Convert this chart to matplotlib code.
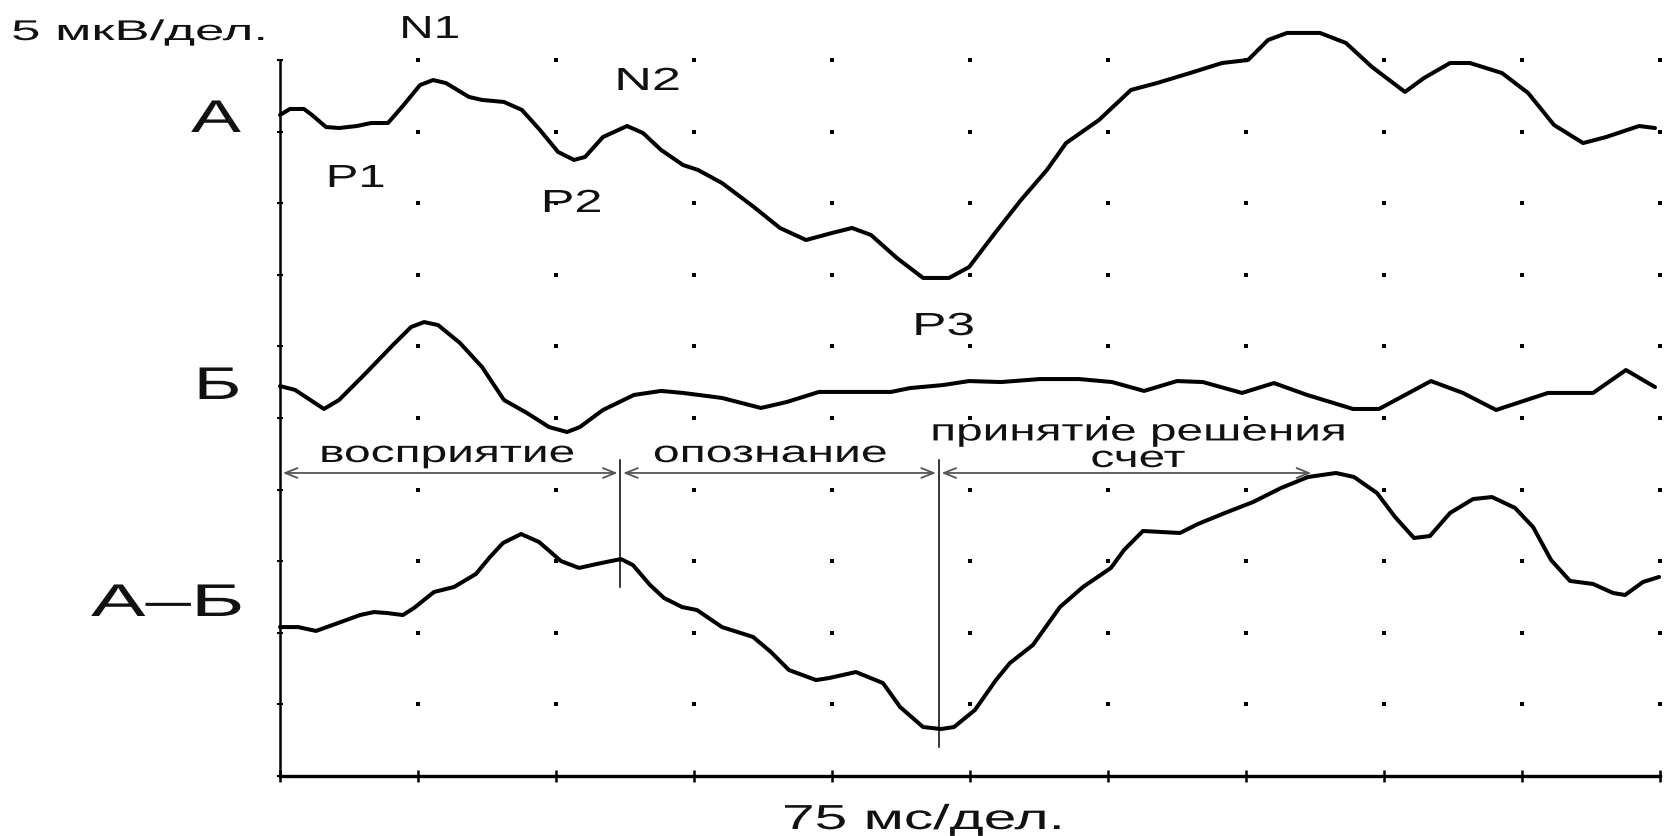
import matplotlib
matplotlib.use('Agg')
import matplotlib.pyplot as plt
import numpy as np
from matplotlib.patheffects import AbstractPathEffect
from matplotlib.transforms import Affine2D

# ---- scales: 75 ms per division (x), 5 uV per division (y) ----
x_ticks_ms = np.arange(0, 751, 75)
y_ticks_uv = np.arange(0, 51, 5)

# ---- trace A (on the chart's uV scale) ----
a_t = [0, 5.4, 13.0, 17.4, 25.0, 32.1, 41.8, 49.5, 58.7, 66.3, 76.1, 83.2, 90.2,
       102.7, 109.8, 121.7, 131.5, 141.3, 151.1, 159.8, 165.8, 175.5, 188.6, 197.3,
       207.1, 219.0, 227.2, 240.2, 257.6, 271.7, 285.9, 300.0, 310.9, 321.2, 335.3,
       349.5, 363.6, 374.5, 388.6, 402.7, 416.8, 427.2, 445.1, 462.5, 476.6, 494.6,
       512.0, 526.1, 537.0, 547.3, 565.2, 579.3, 593.5, 611.4, 621.7, 635.9, 646.7,
       664.1, 678.3, 692.4, 708.2, 720.7, 738.6, 747.3]
a_uv = [46.16, 46.58, 46.58, 46.16, 45.32, 45.25, 45.39, 45.60, 45.60, 46.72, 48.25,
        48.60, 48.39, 47.42, 47.21, 47.07, 46.51, 45.11, 43.58, 43.02, 43.23, 44.62,
        45.39, 44.90, 43.72, 42.67, 42.32, 41.41, 39.73, 38.27, 37.43, 37.92, 38.27,
        37.78, 36.17, 34.78, 34.78, 35.54, 37.92, 40.22, 42.32, 44.20, 45.81, 47.91,
        48.39, 49.09, 49.79, 50.00, 51.40, 51.89, 51.89, 51.19, 49.51, 47.77, 48.74,
        49.79, 49.79, 49.09, 47.70, 45.46, 44.20, 44.62, 45.39, 45.25]

# ---- trace B ----
b_t = [0, 8.2, 23.9, 32.1, 46.7, 61.4, 71.2, 78.3, 85.9, 97.8, 109.8, 121.7, 134.2,
       146.2, 156.0, 163.0, 175.5, 192.4, 207.1, 219.0, 240.2, 261.4, 275.5, 292.9,
       332.1, 342.4, 360.3, 374.5, 391.8, 413.0, 434.2, 452.2, 469.6, 487.5, 501.6,
       522.8, 540.2, 558.2, 583.2, 597.3, 625.5, 642.9, 660.9, 689.1, 713.6, 731.5,
       747.3]
b_uv = [27.23, 26.96, 25.63, 26.26, 28.14, 30.10, 31.35, 31.70, 31.49, 30.24, 28.56,
        26.26, 25.35, 24.37, 24.02, 24.37, 25.56, 26.61, 26.89, 26.75, 26.40, 25.70,
        26.12, 26.82, 26.82, 27.09, 27.30, 27.58, 27.51, 27.72, 27.72, 27.51, 26.89,
        27.58, 27.51, 26.75, 27.44, 26.61, 25.63, 25.63, 27.58, 26.75, 25.56, 26.75,
        26.75, 28.35, 27.16]

# ---- difference trace A-B ----
d_t = [0, 9.8, 19.6, 31.5, 43.5, 51.1, 58.2, 66.8, 72.8, 83.7, 94.6, 106.5, 114.1,
       121.2, 131.0, 140.8, 152.7, 162.5, 174.5, 185.3, 191.8, 201.1, 208.7, 218.5,
       226.6, 240.2, 257.1, 266.8, 276.6, 291.3, 298.4, 313.0, 327.7, 337.0, 349.5,
       359.2, 366.3, 377.7, 389.1, 396.7, 409.2, 423.9, 436.4, 451.6, 458.7, 469.0,
       489.1, 498.9, 513.6, 528.8, 544.0, 558.7, 573.9, 583.7, 596.2, 606.0, 616.3,
       625.0, 635.9, 648.4, 658.7, 671.2, 681.0, 690.8, 701.1, 713.6, 724.5, 731.0,
       740.8, 749.5]
d_uv = [10.40, 10.40, 10.13, 10.68, 11.24, 11.45, 11.38, 11.24, 11.73, 12.85, 13.20,
        14.11, 15.29, 16.27, 16.90, 16.34, 15.01, 14.53, 14.87, 15.15, 14.73, 13.34,
        12.43, 11.80, 11.59, 10.40, 9.71, 8.66, 7.40, 6.70, 6.84, 7.26, 6.49, 4.82,
        3.42, 3.28, 3.42, 4.61, 6.70, 7.89, 9.15, 11.80, 13.20, 14.53, 15.78, 17.11,
        16.97, 17.60, 18.37, 19.13, 20.11, 20.88, 21.16, 20.88, 19.76, 18.09, 16.62,
        16.76, 18.37, 19.34, 19.48, 18.72, 17.39, 15.08, 13.62, 13.41, 12.78, 12.64,
        13.55, 13.90]

# ---- stages (ms) ----
stage_names = ["восприятие", "опознание", "принятие решения\nсчет"]
stage_edges_ms = [0, 185, 358, 562]
arrow_level_uv = 21.16
marker_top_uv = 22.07
marker_bottom_uv = [13.2, 2.03]


class HStretch(AbstractPathEffect):
    """Stretch glyphs horizontally about their centre (text stays a Text artist)."""
    def __init__(self, sx):
        super().__init__()
        self.sx = sx

    def draw_path(self, renderer, gc, tpath, affine, rgbFace=None):
        ext = tpath.get_extents(affine)
        cx = 0.5 * (ext.x0 + ext.x1)
        new = affine + Affine2D().translate(-cx, 0).scale(self.sx, 1).translate(cx, 0)
        renderer.draw_path(gc, tpath, new, rgbFace)


W, H = 1670, 836
fig = plt.figure(figsize=(W / 100, H / 100), dpi=100)
ax = fig.add_axes([280 / W, 1 - 776 / H, 1380 / W, 716 / H])
ax.set_xlim(0, 750)
ax.set_ylim(0, 50)
for s in ['top', 'right']:
    ax.spines[s].set_visible(False)
ax.spines['left'].set_linewidth(1.8)
ax.spines['bottom'].set_linewidth(2.4)
ax.set_xticks(x_ticks_ms)
ax.set_yticks(y_ticks_uv)
ax.tick_params(axis='x', direction='inout', length=9, width=1.8, labelbottom=False)
ax.tick_params(axis='y', direction='inout', length=5, width=1.5, labelleft=False)

gx, gy = np.meshgrid(x_ticks_ms[1:], y_ticks_uv[1:])
ax.scatter(gx.ravel(), gy.ravel(), s=5, marker='s', color='black', lw=0,
           clip_on=False, zorder=1)

for t, v in [(a_t, a_uv), (b_t, b_uv), (d_t, d_uv)]:
    ax.plot(t, v, color='black', lw=2.9, clip_on=False, solid_joinstyle='round',
            solid_capstyle='round', zorder=3)

# stage arrows
for i in range(3):
    ax.annotate('', xy=(stage_edges_ms[i + 1], arrow_level_uv),
                xytext=(stage_edges_ms[i], arrow_level_uv),
                arrowprops=dict(arrowstyle='<->,head_length=0.55,head_width=0.22',
                                color='#555555', lw=1.3, shrinkA=2, shrinkB=2,
                                mutation_scale=16), zorder=2)
# stage boundary markers
for xb, yb in zip(stage_edges_ms[1:3], marker_bottom_uv):
    ax.plot([xb, xb], [marker_top_uv, yb], color='black', lw=1.1, zorder=2)

# ---- text labels: text, centre x px, baseline y px (last line), size pt, width px, linespacing ----
labels = [
    ("5 мкВ/дел.", 139, 40, 20.5, 257, 1.2),
    ("N1", 430, 38, 23, 61, 1.2),
    ("N2", 648, 90, 23, 67, 1.2),
    ("P1", 356, 187, 23, 60, 1.2),
    ("P2", 572, 212, 23, 62, 1.2),
    ("P3", 944, 335, 23, 63, 1.2),
    ("А", 216, 132, 33, 50, 1.2),
    ("Б", 218, 399, 33, 48, 1.2),
    ("А–Б", 167, 616, 33, 154, 1.2),
    (stage_names[0], 447, 462, 22, 255, 1.2),
    (stage_names[1], 770, 462, 22, 234, 1.2),
    (stage_names[2], 1138, 467, 22, 415, 0.85),
    ("75 мс/дел.", 923, 829, 25, 283, 1.2),
]
texts = []
for s, x, y, size, w, ls in labels:
    t = fig.text(x / W, 1 - y / H, s, ha='center', va='baseline', fontsize=size,
                 family=['Liberation Sans', 'DejaVu Sans'], color='#111111',
                 linespacing=ls, multialignment='center')
    texts.append((t, w))

fig.canvas.draw()
r = fig.canvas.get_renderer()
for t, w in texts:
    ext = t.get_window_extent(r)
    t.set_path_effects([HStretch(w / ext.width)])

fig.savefig('out.png', dpi=100)
